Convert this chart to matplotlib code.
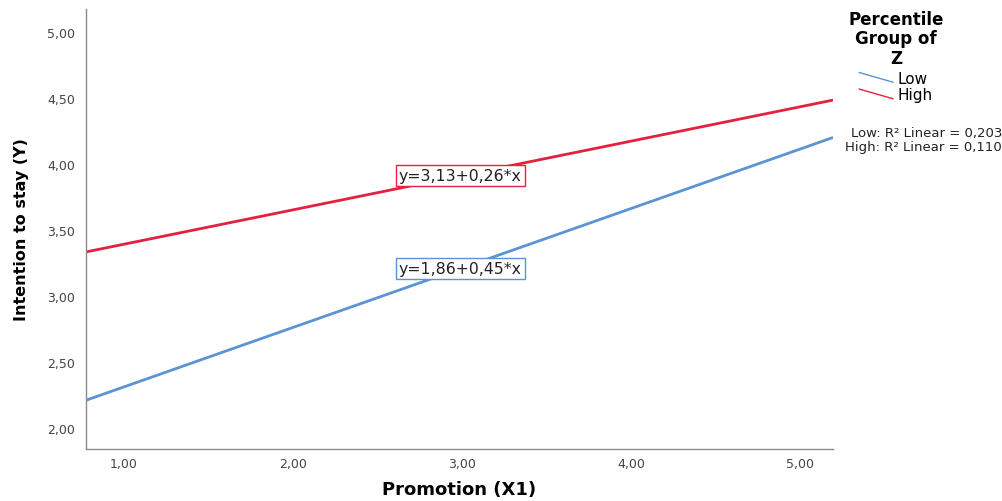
import numpy as np
import matplotlib
matplotlib.use("Agg")
import matplotlib.pyplot as plt
from matplotlib.lines import Line2D
from matplotlib.legend_handler import HandlerBase
from matplotlib.ticker import FuncFormatter

# Fitted lines per percentile group of Z (SPSS simple slopes)
groups = ["Low", "High"]
intercepts = [1.86, 3.13]
slopes = [0.45, 0.26]
r_squared = [0.203, 0.110]
colors = ["#5B93D3", "#E2223F"]
label_x = 2.99

x_range = (0.775, 5.195)
y_range = (1.84, 5.17)
x_ticks = [1, 2, 3, 4, 5]
y_ticks = [2.0, 2.5, 3.0, 3.5, 4.0, 4.5, 5.0]


def comma(v, _pos=None):
    return f"{v:.2f}".replace(".", ",")


class SlantHandler(HandlerBase):
    """Short diagonal line as legend key, like SPSS does."""
    def create_artists(self, legend, orig_handle, xdescent, ydescent,
                       width, height, fontsize, trans):
        line = Line2D([0, width], [height * 0.95, 0.05 * height],
                      color=orig_handle.get_color(), lw=1.0, transform=trans)
        return [line]


fig = plt.figure(figsize=(10.03, 5.02), dpi=100)
ax = fig.add_axes([0.0857, 0.1036, 0.7448, 0.8764])

xs = np.array(x_range)
handles = []
for name, a, b, c in zip(groups, intercepts, slopes, colors):
    h, = ax.plot(xs, a + b * xs, color=c, lw=2.0, solid_capstyle="butt")
    handles.append(h)
    ax.text(label_x, a + b * label_x, f"y={comma(a)}+{comma(b)}*x",
            ha="center", va="center", fontsize=11.3, color="#222222",
            bbox=dict(boxstyle="square,pad=0.2", fc="white", ec=c, lw=1.0))

ax.set_xlim(*x_range)
ax.set_ylim(*y_range)
ax.set_xticks(x_ticks)
ax.set_yticks(y_ticks)
ax.xaxis.set_major_formatter(FuncFormatter(comma))
ax.yaxis.set_major_formatter(FuncFormatter(comma))
ax.tick_params(length=0, labelsize=9, labelcolor="#444444")
ax.tick_params(axis="y", pad=8)
ax.tick_params(axis="x", pad=6)
for side in ["top", "right"]:
    ax.spines[side].set_visible(False)
for side in ["left", "bottom"]:
    ax.spines[side].set_color("#8a8a8a")
    ax.spines[side].set_linewidth(1.0)

ax.set_xlabel("Promotion (X1)", fontsize=13, fontweight="bold", labelpad=7)
ax.set_ylabel("Intention to stay (Y)", fontsize=11.5, fontweight="bold",
              labelpad=13)

leg = fig.legend(handles, groups, title="Percentile\nGroup of\nZ",
                 handler_map={Line2D: SlantHandler()},
                 loc="upper left", bbox_to_anchor=(0.832, 1.006),
                 frameon=False, fontsize=11, handlelength=2.2,
                 handletextpad=0.3, labelspacing=0.1,
                 title_fontproperties={"weight": "bold", "size": 12})
leg.get_title().set_multialignment("center")
leg.get_title().set_linespacing(1.1)
leg._legend_box.align = "center"
leg._legend_box.sep = 3

for g, r, ypix in zip(groups, r_squared, [133, 148]):
    fig.text(0.999, 1 - ypix / 502, f"{g}: R² Linear = {r:.3f}".replace(".", ","),
             ha="right", va="center", fontsize=9.5, color="#222222")

fig.savefig("out.png", dpi=100)
